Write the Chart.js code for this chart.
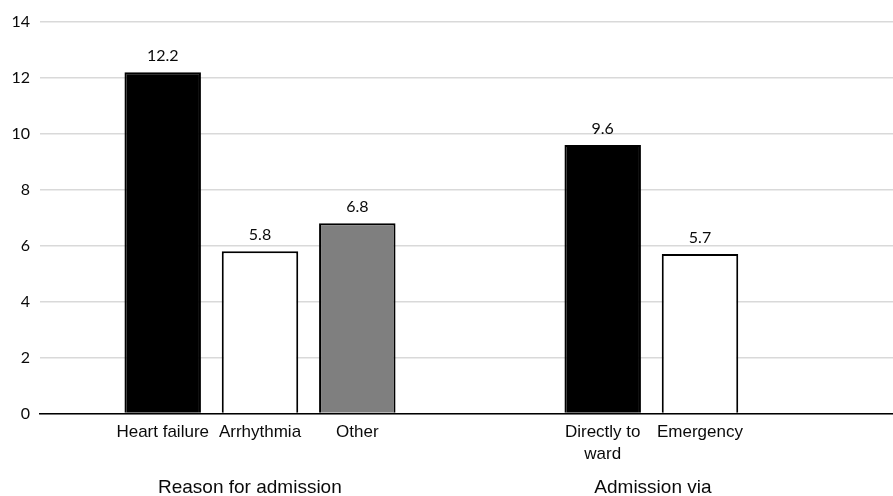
<!DOCTYPE html>
<html>
<head>
<meta charset="utf-8">
<script src="https://cdn.jsdelivr.net/npm/chart.js@4/dist/chart.umd.min.js"></script>
<style>
    body { margin: 0; background: #fff; overflow: hidden; }
    #wrap { width: 893px; height: 496px; position: relative; }
</style>
</head>
<body>
<div id="wrap"><canvas id="chart"></canvas></div>
<script>
// group names and the label under each bar (per group, per series)
const groups = ['Reason for admission', 'Admission via'];
const barLabels = [
    ['Heart failure', 'Arrhythmia', 'Other'],
    [['Directly to', 'ward'], 'Emergency', '']
];
// where the group captions sit on the x scale (group index units)
const groupCaptionPos = [-0.023, 0.893];

// values, one array per series (first bar, second bar, third bar of each group)
const series1 = [12.2, 9.6];
const series2 = [5.8, 5.7];
const series3 = [6.8, null];

const yTicks = [0, 2, 4, 6, 8, 10, 12, 14];

const textColor = '#0a0a0a';

function toPoints(values) {
    return values.map((v, i) => ({ x: i, y: v }));
}

// value labels, bar labels and group captions
const labelPlugin = {
    id: 'labels',
    afterDraw(chart) {
        const ctx = chart.ctx;
        const xScale = chart.scales.x;
        ctx.save();
        ctx.fillStyle = textColor;
        ctx.textAlign = 'center';
        ctx.textBaseline = 'middle';

        chart.data.datasets.forEach((ds, d) => {
            const meta = chart.getDatasetMeta(d);
            meta.data.forEach((bar, i) => {
                const v = ds.data[i].y;
                if (v === null) return;
                ctx.font = '16px Lato';
                ctx.fillText(v.toFixed(1), bar.x, bar.y - 16);

                let lbl = barLabels[i][d];
                if (!Array.isArray(lbl)) lbl = [lbl];
                ctx.font = '17px "Liberation Sans"';
                lbl.forEach((line, k) => {
                    ctx.fillText(line, bar.x, chart.chartArea.bottom + 19 + k * 22);
                });
            });
        });

        ctx.font = '19px "Liberation Sans"';
        groups.forEach((g, i) => {
            ctx.fillText(g, xScale.getPixelForValue(groupCaptionPos[i]), chart.chartArea.bottom + 74);
        });
        ctx.restore();
    }
};

const ctx = document.getElementById('chart').getContext('2d');
new Chart(ctx, {
    type: 'bar',
    data: {
        datasets: [
            {
                data: toPoints(series1),
                backgroundColor: '#000000',
                borderColor: '#000000',
                borderWidth: 2
            },
            {
                data: toPoints(series2),
                backgroundColor: '#ffffff',
                borderColor: '#000000',
                borderWidth: 2
            },
            {
                data: toPoints(series3),
                backgroundColor: '#7f7f7f',
                borderColor: '#000000',
                borderWidth: 2
            }
        ]
    },
    options: {
        responsive: true,
        maintainAspectRatio: false,
        animation: false,
        categoryPercentage: 0.6634,
        barPercentage: 0.786,
        layout: { padding: { top: 22, right: 0, left: 0, bottom: 0 } },
        plugins: {
            legend: { display: false },
            tooltip: { enabled: false }
        },
        scales: {
            x: {
                type: 'linear',
                offset: false,
                bounds: 'data',
                grace: 0,
                min: -0.5,
                max: 1.43864,
                afterBuildTicks: (scale) => {
                    scale.ticks = groups.map((_, i) => ({ value: i }));
                },
                afterFit: (scale) => { scale.height = 82.5; },
                ticks: { display: false },
                grid: { display: false },
                border: { display: true, color: '#000000', width: 1.5 }
            },
            y: {
                min: 0,
                max: 14,
                afterBuildTicks: (scale) => {
                    scale.ticks = yTicks.map(v => ({ value: v }));
                },
                afterFit: (scale) => { scale.width = 40; },
                ticks: {
                    color: textColor,
                    font: { family: 'Lato', size: 16 },
                    padding: 10
                },
                grid: {
                    color: '#d9d9d9',
                    lineWidth: 1.5,
                    drawTicks: false
                },
                border: { display: false }
            }
        }
    },
    plugins: [labelPlugin]
});
</script>
</body>
</html>
